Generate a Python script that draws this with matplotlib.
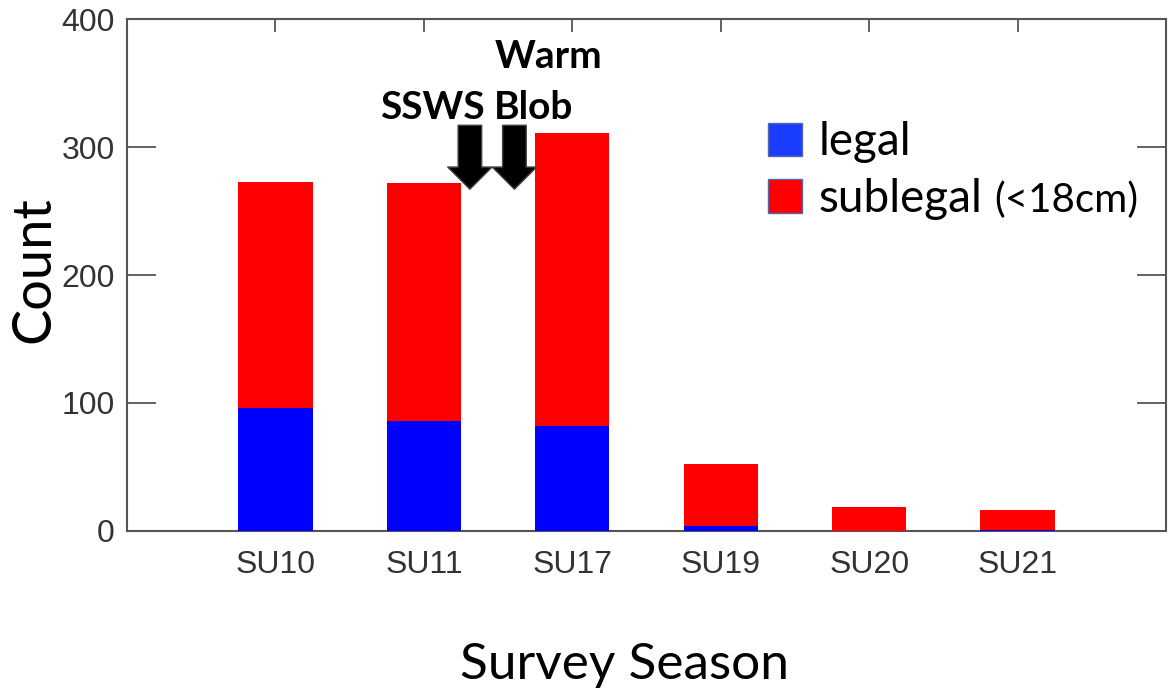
'''
stacked bar chart of legal / sublegal counts per survey season
'''
import matplotlib
matplotlib.use('Agg')
import matplotlib.pyplot as plt
from matplotlib.patches import Patch
import numpy as np

# data
seasons = ['SU10', 'SU11', 'SU17', 'SU19', 'SU20', 'SU21']
legal = [96, 86, 82, 4, 0, 1]
sublegal = [177, 186, 229, 48, 19, 15]


def plot_bars():
    fig = plt.figure(figsize=(11.71, 6.92), dpi=100)
    ax = fig.add_axes([0.1085, 0.2327, 0.8872, 0.7398])

    x = np.arange(len(seasons))
    ax.bar(x, legal, width=0.5, color='#0000ff', linewidth=0, zorder=3)
    ax.bar(x, sublegal, width=0.5, bottom=legal, color='#ff0000', linewidth=0, zorder=3)

    ax.set_xlim(-1, 6)
    ax.set_ylim(0, 400)
    ax.set_yticks([0, 100, 200, 300, 400])
    ax.set_xticks(x)
    ax.set_xticklabels(seasons)

    # ticks point inwards, y on both sides, x only on top
    ax.tick_params(axis='y', direction='in', length=21, width=1.3, color='#555555',
                   left=True, right=True, labelsize=23, labelcolor='#333333', pad=9)
    ax.tick_params(axis='x', direction='in', length=9, width=1.3, color='#555555',
                   bottom=False, top=True, labelsize=23, labelcolor='#333333', pad=14)
    for lbl in ax.get_xticklabels() + ax.get_yticklabels():
        lbl.set_family('Liberation Sans')
    for s in ax.spines.values():
        s.set_color('#555555')
        s.set_linewidth(1.5)

    ax.set_ylabel('Count', family='Lato', fontsize=39)
    ax.yaxis.set_label_coords(-0.066, 0.51)
    ax.set_xlabel('Survey Season', family='Lato', fontsize=37)
    ax.xaxis.set_label_coords(0.479, -0.217)

    # event labels and arrows
    ax.text(1.84, 371, 'Warm', family='Lato', fontweight='bold', fontsize=28,
            ha='center', va='center')
    ax.text(1.06, 331, 'SSWS', family='Lato', fontweight='bold', fontsize=28,
            ha='center', va='center')
    ax.text(1.74, 331, 'Blob', family='Lato', fontweight='bold', fontsize=28,
            ha='center', va='center')
    for xa in [1.31, 1.61]:
        ax.annotate('', xy=(xa, 267), xytext=(xa, 317),
                    arrowprops=dict(width=17, headwidth=32, headlength=16,
                                    facecolor='black', edgecolor='#444444', lw=1))

    handles = [Patch(facecolor='#1a3cff', edgecolor='#5566aa'),
               Patch(facecolor='#ff0000', edgecolor='#5566aa')]
    ax.legend(handles, ['legal', 'sublegal'],
              loc='upper left', bbox_to_anchor=(0.617, 0.80),
              frameon=False, prop={'family': 'Lato', 'size': 33},
              handlelength=0.75, handleheight=0.75, handletextpad=0.35,
              labelspacing=0.32, borderpad=0, borderaxespad=0)
    ax.text(0.835, 0.623, '(<18cm)', transform=ax.transAxes, family='Lato',
            fontsize=29, va='baseline', ha='left')

    fig.savefig('out.png', dpi=100)


if __name__ == "__main__":
    plot_bars()
